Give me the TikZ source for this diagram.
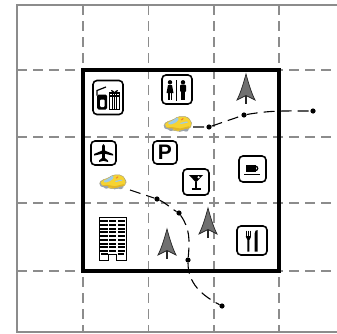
\documentclass[tikz,border=0pt]{standalone}
\usepackage{fontspec}
\newfontfamily\signfont{Liberation Sans}
\definecolor{gridgray}{HTML}{8C8C8C}
\definecolor{treegray}{HTML}{707070}
\definecolor{treeline}{HTML}{262626}
\definecolor{cabyellow}{HTML}{F6D332}
\definecolor{cabshade}{HTML}{E2B628}
\definecolor{cabedge}{HTML}{A9A27A}
\definecolor{cabglass}{HTML}{9CCBEA}
\definecolor{cabsign}{HTML}{F0802C}
\definecolor{cabwheel}{HTML}{9AA3AE}
\tikzset{
  border/.style={draw=gridgray, line width=1.1pt},
  gridline/.style={draw=gridgray, line width=1.1pt, dash pattern=on 10pt off 6pt},
  frame/.style={line width=4.2pt, line join=miter},
  iconbox/.style={draw, line width=1.6pt, rounded corners=4pt, fill=white, inner sep=0pt},
  spot/.style={inner sep=0pt},
  route/.style={line width=1.1pt, dash pattern=on 11pt off 6pt},
  stop/.style={circle, fill=black, inner sep=0pt, minimum size=5.2pt},
  % gray spruce, origin at the tip
  pine/.pic={
    \filldraw[fill=treegray, draw=treeline, line width=0.7pt]
      (0,0) .. controls (2.5,-9) and (5,-18) .. (9,-26) -- (0,-21.5)
      -- (-9,-26) .. controls (-5,-18) and (-2.5,-9) .. (0,0) -- cycle;
    \draw[treeline, line width=1.4pt] (0,-21.5) -- (0,-30);
  },
  % yellow taxi, origin at the centre
  cab/.pic={
    \filldraw[fill=cabyellow, draw=cabedge, line width=0.5pt, rounded corners=2pt]
      (-14,-1) -- (-12,2) -- (-5,4) -- (0,7.5) -- (9,7.5) -- (13,3) -- (14,-1)
      -- (11,-5) -- (2,-7.5) -- (-6,-6) -- (-13,-4) -- cycle;
    \fill[cabshade, rounded corners=1pt] (-12,-3.5) -- (-6,-5.2) -- (2,-6.6) -- (11,-4.3) -- (12,-2) -- (2,-4.5) -- (-6,-3) -- cycle;
    \fill[cabglass, rounded corners=1pt] (-10.5,0.8) -- (-5,3.6) -- (-0.5,6.8) -- (1,4.5) -- (-2.5,1.2) -- (-8,-0.8) -- cycle;
    \fill[cabglass, rounded corners=0.8pt] (1.5,0.9) -- (9,2.6) -- (10.5,1.6) -- (3,0) -- cycle;
    \fill[cabsign] (2.8,4.2) -- (4.8,5.8) -- (5.8,5.3) -- (3.8,3.6) -- cycle;
    \draw[cabwheel, line width=1.4pt, line cap=round] (-13.5,-1.5) -- (-12.5,-4) -- (-9,-5);
    \fill[cabwheel] (-7,-5.6) ellipse (2.3pt and 1.4pt);
    \fill[cabwheel] (8,-6.2) ellipse (2.3pt and 1.4pt);
    \draw[cabwheel, line width=1pt] (1,-7.3) -- (11,-5);
  },
  % airliner seen from above
  plane/.pic={
    \fill (0,9) .. controls (1.4,8.5) and (1.4,7) .. (1.4,5) -- (1.4,-5)
      -- (4.5,-7.5) -- (4.5,-9) -- (0,-7.8) -- (-4.5,-9) -- (-4.5,-7.5) -- (-1.4,-5)
      -- (-1.4,5) .. controls (-1.4,7) and (-1.4,8.5) .. (0,9) -- cycle;
    \fill (-1.2,2.5) -- (-9.5,-1) -- (-9.5,-2.6) -- (-1.2,-0.8) -- cycle;
    \fill (1.2,2.5) -- (9.5,-1) -- (9.5,-2.6) -- (1.2,-0.8) -- cycle;
  },
  % cup and saucer
  cup/.pic={
    \fill (-6.5,-3) rectangle (3,4.5);
    \draw[line width=1.3pt] (3,2.8) arc[start angle=90, end angle=-90, radius=2.2pt];
    \fill (-8.5,-6.2) rectangle (7.5,-4.8);
  },
  % cocktail glass
  martini/.pic={
    \fill (-7,7) -- (7,7) -- (0,-0.5) -- cycle;
    \fill[white] (2.6,4.8) circle (1.2pt);
    \draw[line width=1.4pt] (0,0) -- (0,-6.5);
    \draw[line width=1.6pt] (-4.5,-7.2) -- (4.5,-7.2);
  },
  % fork and knife
  cutlery/.pic={
    \foreach \t in {-5.6,-3.6,-1.6} \draw[line width=0.9pt] (\t,10) -- (\t,4);
    \fill (-6.1,4.5) -- (-1.1,4.5) -- (-1.1,3.5) .. controls (-1.1,2) and (-2.6,1.5) .. (-2.6,0.5)
      -- (-2.6,-11) -- (-4.6,-11) -- (-4.6,0.5) .. controls (-4.6,1.5) and (-6.1,2) .. (-6.1,3.5) -- cycle;
    \fill (2.6,-11) -- (2.6,7) .. controls (2.6,9.5) and (4,10.5) .. (5.6,10.5)
      -- (5.6,-11) -- cycle;
  },
  % lady and gentleman
  restroom/.pic={
    \draw[line width=0.8pt] (-0.5,-11) -- (-0.5,9.5);
    \fill (-7,7.2) circle (2.2pt);
    \fill (-7,4.5) -- (-5,4.5) -- (-3.5,-3.5) -- (-10.5,-3.5) -- (-9,4.5) -- cycle;
    \fill (-8.6,-3.5) rectangle (-7.5,-10.5);
    \fill (-6.5,-3.5) rectangle (-5.4,-10.5);
    \fill (6,7.2) circle (2.2pt);
    \fill[rounded corners=1pt] (3,4.8) rectangle (9,-2.5);
    \fill (3.8,-2) rectangle (5.7,-10.5);
    \fill (6.3,-2) rectangle (8.2,-10.5);
  },
  % shopping bag beside a wrapped present
  giftshop/.pic={
    \fill[rounded corners=1.5pt] (-11,-12) rectangle (-1,3);
    \fill[white, rounded corners=1pt] (-8,-9.5) rectangle (-3.5,-2);
    \draw[line width=1.2pt] (-11,2) -- (-11,7) -- (-2,10.5);
    \draw[line width=1.2pt] (1.5,-12) rectangle (11.5,4.5);
    \foreach \s in {4.2,6.5,8.8} \draw[line width=1pt] (\s,-12) -- (\s,4.5);
    \draw[line width=1.2pt] (1.5,1.5) -- (11.5,1.5);
    \draw[line width=1pt] (6.5,4.5) .. controls (3.5,9) and (2.5,6) .. (6.5,4.5)
      .. controls (10.5,6) and (9.5,9) .. (6.5,4.5);
  },
  % office tower with a doorway
  tower/.pic={
    \filldraw[fill=white, draw=black, line width=1pt]
      (-13.5,-21.5) -- (-13.5,21.5) -- (13.5,21.5) -- (13.5,-21.5) -- (4,-21.5)
      -- (4,-15.5) -- (-4,-15.5) -- (-4,-21.5) -- cycle;
    \foreach \r in {0,...,8}
      \foreach \c in {-8.6,0,8.6}
        \fill (\c-3.6,18.2-\r*3.7) rectangle (\c+3.6,16.2-\r*3.7);
    \fill (-11.6,-14) rectangle (-5,-16);
    \fill (5,-14) rectangle (11.6,-16);
  }
}
\begin{document}
\begin{tikzpicture}[x=1pt,y=1pt]
\useasboundingbox (0,0) rectangle (337,333);
\clip (0,0) rectangle (337,333);

% map sheet and its dashed grid
\draw[border] (345,328) -- (17,328) -- (17,1) -- (345,1);
\foreach \gx in {83,148.5,214,279} \draw[gridline] (\gx,328) -- (\gx,1);
\foreach \gy in {263,196,130,62} \draw[gridline] (17,\gy) -- (345,\gy);

% the site boundary
\draw[frame] (83,263) rectangle (279,62);

% sign boxes
\node[iconbox, minimum width=30pt, minimum height=34pt] (shop) at (108,235.5) {};
\node[iconbox, minimum width=30pt, minimum height=29pt] (wc) at (177,243.5) {};
\node[iconbox, minimum width=25pt, minimum height=24pt] (airport) at (103.5,180) {};
\node[iconbox, minimum width=24pt, minimum height=23pt, font=\signfont\bfseries\fontsize{21}{21}\selectfont] (parking) at (165,180.5) {P};
\node[iconbox, minimum width=27pt, minimum height=26pt] (cafe) at (252.5,164) {};
\node[iconbox, minimum width=26pt, minimum height=26pt] (bar) at (196,151) {};
\node[iconbox, minimum width=30pt, minimum height=29pt] (diner) at (252,92.5) {};

\pic at (shop.center) {giftshop};
\pic at (wc.center) {restroom};
\pic at (airport.center) {plane};
\pic at (cafe.center) {cup};
\pic at (bar.center) {martini};
\pic at (diner.center) {cutlery};

% hotel and trees
\node[spot, minimum width=27pt, minimum height=43pt] (hotel) at (112.5,94.5) {};
\pic at (hotel.center) {tower};
\node[spot] (treeA) at (246,259) {};
\node[spot] (treeB) at (167,104) {};
\node[spot] (treeC) at (208,125) {};
\pic at (treeA) {pine};
\pic at (treeB) {pine};
\pic at (treeC) {pine};

% taxis
\node[spot, minimum width=28pt, minimum height=15pt] (taxiA) at (178,209) {};
\node[spot, minimum width=26pt, minimum height=16pt] (taxiB) at (113,151) {};

% stops along the two routes
\coordinate (a0) at (193,206);
\node[stop] (a1) at (209,206) {};
\node[stop] (a2) at (244,218) {};
\node[stop] (a3) at (313,222) {};
\coordinate (b0) at (130,143);
\node[stop] (b1) at (157,134) {};
\node[stop] (b2) at (179,120) {};
\node[stop] (b3) at (188,73) {};
\node[stop] (b4) at (222,27) {};

\draw[route] (a0) -- (a1) -- (a2) to[out=10, in=180] (a3);
\draw[route] (b0) -- (b1) to[out=-25, in=150] (b2) to[out=-55, in=85] (b3)
  to[out=-90, in=152] (b4);

\pic at (taxiA.center) {cab};
\pic[scale=0.95] at (taxiB.center) {cab};
\end{tikzpicture}
\end{document}
